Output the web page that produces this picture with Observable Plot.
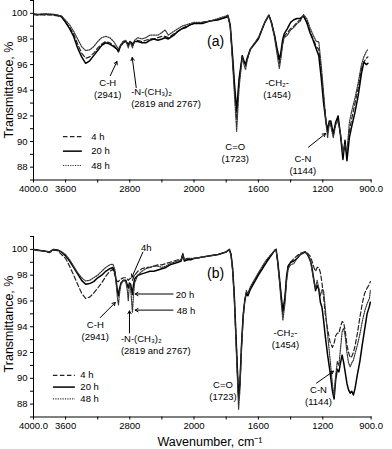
<!DOCTYPE html>
<html><head><meta charset="utf-8">
<script src="https://cdn.jsdelivr.net/npm/d3@7"></script>
<script src="https://cdn.jsdelivr.net/npm/@observablehq/plot@0.6"></script>
<style>
body{margin:0;background:#fff;}
#wrap{position:relative;width:392px;height:449px;font-family:"Liberation Sans",Arial,sans-serif;color:#000;overflow:hidden;}
.panel{position:absolute;left:0;}
.lab{position:absolute;font-size:12.5px;white-space:nowrap;transform:translate(-50%,-50%);}
.ylab{transform:translate(-50%,-50%) rotate(-90deg);}
</style></head><body><div id="wrap"></div>
<script>
// ---------- Panel (a) data ----------
const wavenumA = [4000,3950,3900,3850,3800,3750,3700,3650,3600,3550,
  3500,3450,3400,3350,3300,3250,3200,3150,3100,3050,
  3000,2960,2941,2920,2880,2850,2819,2795,2767,2740,
  2700,2650,2600,2550,2500,2450,2400,2360,2320,2250,
  2200,2150,2100,2050,2000,1950,1900,1850,1800,1790,
  1775,1760,1748,1735,1720,1700,1690,1680,1670,1650,
  1600,1560,1535,1520,1500,1485,1470,1460,1450,1440,
  1420,1400,1380,1360,1340,1320,1300,1280,1260,1240,
  1225,1210,1195,1180,1170,1160,1150,1135,1120,1105,
  1090,1075,1062,1050,1035,1020,1000,980,960,945,
  930,920];
const a4h = [99.9,99.85,99.9,99.85,99.9,99.85,99.8,99.7,99.3,98.9,
  98.4,97.6,96.9,96.5,96.6,96.9,97.3,97.6,97.8,97.7,
  97.5,97.2,97.1,97.4,97.7,97.8,97.5,97.8,97.4,97.8,
  97.9,97.8,97.9,98.0,98.0,98.1,98.2,98.2,98.1,98.4,
  98.6,98.8,99.0,99.1,99.2,99.3,99.4,99.5,99.7,99.8,
  99.0,96.4,94.0,91.8,94.6,96.7,96.2,95.9,96.4,97.2,
  98.1,99.3,99.85,99.4,98.3,97.2,96.1,96.8,97.7,98.2,
  98.5,98.8,99.0,99.3,99.5,99.8,99.4,98.6,98.0,97.4,
  97.2,95.5,93.5,91.6,90.7,91.5,91.4,90.5,91.4,91.8,
  90.5,89.0,89.9,89.0,90.8,91.8,93.0,94.2,95.7,96.2,
  96.5,96.6];
const a20h = [99.95,99.9,99.9,99.95,99.9,99.9,99.85,99.75,99.3,98.8,
  98.2,97.3,96.6,96.1,96.3,96.7,97.1,97.5,97.7,97.6,
  97.4,97.2,97.0,97.4,97.8,97.8,97.6,97.8,97.6,97.8,
  97.8,97.7,97.7,97.9,98.0,97.9,98.0,98.1,98.0,98.3,
  98.6,98.8,98.9,99.1,99.2,99.2,99.4,99.5,99.7,99.85,
  99.1,96.6,94.4,92.4,94.9,96.7,96.3,96.0,96.5,97.2,
  98.0,99.3,99.85,99.3,98.3,97.3,96.4,97.0,97.9,98.4,
  98.8,99.3,99.5,99.6,99.6,99.8,99.3,98.5,97.9,97.2,
  96.7,95.0,93.0,91.5,90.9,91.6,91.6,90.6,91.5,92.0,
  90.5,88.6,90.1,88.5,90.3,91.2,92.3,93.6,95.3,96.2,
  96.0,96.1];
const a48h = [99.95,99.9,99.95,99.9,99.95,99.9,99.85,99.8,99.45,99.1,
  98.6,98.0,97.4,97.1,97.15,97.4,97.8,98.1,98.2,98.1,
  97.8,97.4,97.2,97.5,97.8,97.9,97.3,97.8,97.3,97.9,
  98.1,98.0,98.1,98.3,98.3,98.3,98.5,98.7,98.3,98.6,
  98.8,99.0,99.1,99.2,99.3,99.3,99.4,99.6,99.8,99.85,
  98.9,96.0,93.5,90.8,94.2,96.6,96.0,95.6,96.3,97.2,
  98.1,99.3,99.85,99.3,98.1,96.9,95.7,96.5,97.5,98.1,
  98.3,98.7,98.9,99.2,99.4,99.9,99.6,98.9,98.3,97.8,
  97.8,96.0,93.8,91.4,90.3,91.4,91.2,90.3,91.3,91.6,
  90.6,89.1,89.8,89.2,91.5,92.4,93.4,94.6,96.0,96.6,
  97.0,97.2];

// ---------- Panel (b) data ----------
const wavenumB = [4000,3950,3900,3850,3800,3750,3700,3650,3600,3550,
  3500,3450,3400,3350,3300,3250,3200,3150,3100,3050,
  3010,2985,2965,2950,2941,2930,2910,2880,2850,2830,
  2819,2805,2790,2775,2767,2755,2740,2700,2650,2600,
  2550,2500,2450,2400,2350,2300,2250,2200,2160,2140,
  2120,2080,2040,2000,1950,1900,1850,1800,1780,1770,
  1760,1750,1740,1730,1723,1715,1705,1695,1685,1675,
  1665,1650,1600,1550,1500,1490,1480,1470,1460,1448,
  1435,1425,1415,1400,1380,1360,1340,1310,1295,1280,
  1270,1255,1245,1235,1225,1215,1205,1195,1185,1170,
  1155,1140,1130,1120,1110,1100,1090,1080,1070,1060,
  1050,1040,1030,1020,1010,1000,985,970,955,940,
  925,910,905];
const b4h = [100.0,99.95,99.9,99.85,99.75,99.95,99.9,99.6,99.3,98.7,
  98.0,97.3,96.6,96.2,96.3,96.6,97.0,97.4,97.9,98.3,
  98.45,98.0,97.6,97.5,97.5,97.6,97.7,97.8,97.8,97.7,
  97.6,97.7,97.75,97.7,97.6,97.8,98.0,98.3,98.5,98.6,
  98.6,98.7,98.8,98.8,98.9,99.0,99.1,99.2,99.2,99.7,
  99.2,99.3,99.2,99.3,99.4,99.5,99.6,99.8,100.0,99.6,
  98.5,96.5,93.5,90.5,88.4,89.5,92.5,94.8,96.0,96.6,
  96.5,97.0,98.1,99.1,99.9,100.0,99.0,97.8,96.5,95.0,
  96.2,97.8,98.7,99.0,99.3,99.5,99.7,99.8,99.7,99.5,
  99.2,98.6,98.3,98.6,98.6,98.2,97.4,96.3,95.0,93.8,
  92.8,92.4,92.7,93.3,93.5,93.5,94.0,94.4,94.3,93.6,
  92.6,92.0,91.6,91.7,92.0,92.5,93.5,94.7,95.8,96.6,
  97.0,97.3,97.5];
const b20h = [100.0,99.95,99.9,99.85,99.8,100.0,99.95,99.8,99.5,99.1,
  98.6,98.1,97.6,97.3,97.35,97.5,97.8,98.0,98.3,98.5,
  98.6,98.2,97.3,96.6,96.4,96.9,97.4,97.6,97.6,97.2,
  97.0,97.4,97.3,96.8,96.5,97.2,97.7,98.0,98.1,98.2,
  98.3,98.3,98.4,98.5,98.6,98.8,98.9,99.0,99.1,99.6,
  99.1,99.2,99.2,99.3,99.4,99.5,99.6,99.8,100.0,99.6,
  98.5,96.5,93.5,90.5,88.6,89.6,92.5,94.8,96.0,96.6,
  96.4,96.9,98.0,99.0,99.9,100.0,99.1,97.9,96.6,95.2,
  96.3,97.9,98.7,99.0,99.1,99.3,99.6,99.8,99.6,99.2,
  98.8,97.6,96.8,97.2,96.9,95.9,95.5,94.5,93.3,91.8,
  90.5,89.0,88.4,89.9,90.7,90.5,91.2,91.8,91.2,90.4,
  89.6,89.1,88.85,89.0,88.7,89.2,90.3,91.3,92.6,93.8,
  95.0,95.6,95.9];
const b48h = [100.0,99.9,99.9,99.85,99.8,100.0,99.95,99.8,99.6,99.2,
  98.7,98.2,97.8,97.55,97.6,97.8,98.0,98.3,98.6,98.8,
  98.85,98.4,97.0,96.0,95.7,96.5,97.3,97.6,97.5,96.8,
  96.0,97.3,97.0,95.8,95.1,96.4,97.4,98.0,98.3,98.5,
  98.6,98.7,98.7,98.6,98.7,98.9,99.0,99.1,99.2,99.6,
  99.2,99.3,99.3,99.3,99.4,99.5,99.6,99.8,100.0,99.5,
  98.3,96.2,93.0,89.8,87.6,89.0,92.2,94.6,96.0,96.8,
  96.6,97.1,98.2,99.2,99.9,100.0,98.9,97.6,96.1,94.5,
  95.8,97.5,98.5,98.8,98.9,99.3,99.6,99.85,99.6,99.3,
  98.6,97.5,97.0,97.6,97.0,96.4,96.9,96.8,95.5,93.4,
  91.5,89.5,88.6,90.2,91.3,91.0,92.3,93.6,93.9,93.2,
  92.0,91.2,90.9,91.2,91.4,91.9,92.6,93.4,94.4,95.2,
  95.8,96.2,96.8];

// ---------- Axis ticks ----------
const xTickValues = [4000,3600,3200,2800,2400,2000,1800,1600,1400,1200,900];
const xTickLabels = [[4000,"4000.0"],[3600,"3600"],[2800,"2800"],[2000,"2000"],[1600,"1600"],[1200,"1200"],[900,"900.0"]];
const yTickValues = [87,88,89,90,91,92,93,94,95,96,97,98,99,100,101];
const yTickLabels = [88,90,92,94,96,98,100];
const seriesNames = ["4 h","20 h","48 h"];

// ---------- Annotations (data coordinates: wavenumber, %T) ----------
const annA = {
  texts: [
    {w:3075,t:94.13,s:"C-H\n(2941)",anchor:"middle"},
    {w:2783,t:93.48,s:"-N-(CH\u2083)\u2082\n(2819 and 2767)",anchor:"start"},
    {w:1744,t:89.14,s:"C=O\n(1723)",anchor:"middle"},
    {w:1484,t:94.18,s:"-CH\u2082-\n(1454)",anchor:"middle"},
    {w:1324,t:88.23,s:"C-N\n(1144)",anchor:"middle"}
  ],
  arrows: [
    {w1:3043,t1:95.14,w2:2960,t2:96.24},
    {w1:2720,t1:94.21,w2:2770,t2:96.55},
    {w1:1289,t1:89.56,w2:1183,t2:90.62}
  ],
  tag: {w:1866,t:97.82,s:"(a)"},
  legend: {w1:3627,w2:3391,wt:3280,rows:[90.39,89.25,88.13]}
};
const annB = {
  texts: [
    {w:2596,t:100.18,s:"4h",anchor:"middle"},
    {w:2227,t:96.54,s:"20 h",anchor:"start"},
    {w:2215,t:95.29,s:"48 h",anchor:"start"},
    {w:3230,t:93.71,s:"C-H\n(2941)",anchor:"middle"},
    {w:2911,t:92.67,s:"-N-(CH\u2083)\u2082\n(2819 and 2767)",anchor:"start"},
    {w:1820,t:89.08,s:"C=O\n(1723)",anchor:"middle"},
    {w:1432,t:93.11,s:"-CH\u2082-\n(1454)",anchor:"middle"},
    {w:1227,t:88.67,s:"C-N\n(1144)",anchor:"middle"}
  ],
  arrows: [
    {w1:2637,t1:99.79,w2:2774,t2:97.84},
    {w1:2261,t1:96.54,w2:2733,t2:96.54},
    {w1:2261,t1:95.29,w2:2733,t2:95.29},
    {w1:3168,t1:94.71,w2:2981,t2:95.88},
    {w1:2804,t1:93.52,w2:2804,t2:95.23},
    {w1:1239,t1:89.63,w2:1134,t2:90.55}
  ],
  tag: {w:1866,t:98.15,s:"(b)"},
  legend: {w1:3752,w2:3478,wt:3416,rows:[90.23,89.32,88.41]}
};

const styles = [
  {stroke:"#222", strokeWidth:1.2, strokeDasharray:"4.5,2.5"},
  {stroke:"#000", strokeWidth:1.5, strokeDasharray:null},
  {stroke:"#333", strokeWidth:1.2, strokeDasharray:"1.2,1.2"}
];

function panel(wn, series, ann, height, plotBottom) {
  const labMap = new Map(xTickLabels);
  const marks = [];
  series.forEach((vals, k) => {
    const data = wn.map((w, i) => ({w, t: vals[i]}));
    const st = styles[k];
    marks.push(Plot.line(data, {x:"w", y:"t", stroke:st.stroke, strokeWidth:st.strokeWidth,
      strokeDasharray: st.strokeDasharray || undefined, curve:"linear"}));
  });
  const tStart = ann.texts.filter(d => d.anchor === "start");
  const tMid = ann.texts.filter(d => d.anchor === "middle");
  marks.push(Plot.text(tMid, {x:"w", y:"t", text:"s", textAnchor:"middle", lineHeight:1.25, fontSize:9.5, fill:"#000"}));
  marks.push(Plot.text(tStart, {x:"w", y:"t", text:"s", textAnchor:"start", lineHeight:1.25, fontSize:9.5, fill:"#000"}));
  marks.push(Plot.arrow(ann.arrows, {x1:"w1", y1:"t1", x2:"w2", y2:"t2", stroke:"#000", strokeWidth:1, headLength:5}));
  marks.push(Plot.text([ann.tag], {x:"w", y:"t", text:"s", fontSize:14, textAnchor:"middle", fill:"#000"}));
  const lg = ann.legend;
  lg.rows.forEach((r, k) => {
    const st = styles[k];
    marks.push(Plot.ruleY([r], {x1: lg.w1, x2: lg.w2, stroke: st.stroke, strokeWidth: st.strokeWidth,
      strokeDasharray: st.strokeDasharray || undefined}));
  });
  marks.push(Plot.text(lg.rows.map((r, k) => ({t:r, s:seriesNames[k]})), {x: () => lg.wt, y:"t", text:"s", textAnchor:"start", fontSize:9.5, fill:"#000"}));
  return Plot.plot({
    width: 392, height,
    marginLeft: 33, marginRight: 21.4, marginTop: 0, marginBottom: height - plotBottom,
    style: {fontFamily: "'Liberation Sans', Arial, sans-serif", fontSize: "9.5px", background: "transparent", overflow: "visible", color: "#000"},
    x: {type:"linear", domain:[4000,2000,900], range:[33,193.5,370.6], ticks: xTickValues,
        tickFormat: d => labMap.has(d) ? labMap.get(d) : "", tickSize: 3, tickPadding: 2, line: true, label: null},
    y: {domain:[87,101], range:[plotBottom, 0], ticks: yTickValues,
        tickFormat: d => yTickLabels.includes(d) ? String(d) : "", tickSize: 3, tickPadding: 3, line: true, label: null},
    marks
  });
}

const wrap = document.getElementById("wrap");
const pa = panel(wavenumA, [a4h, a20h, a48h], annA, 200, 179.5);
pa.classList.add("panel"); pa.style.top = "0px";
wrap.appendChild(pa);
const pb = panel(wavenumB, [b4h, b20h, b48h], annB, 213, 180.5);
pb.classList.add("panel"); pb.style.top = "236px";
wrap.appendChild(pb);

function addLabel(text, x, y, rotate) {
  const d = document.createElement("div");
  d.className = "lab" + (rotate ? " ylab" : "");
  d.textContent = text;
  d.style.left = x + "px"; d.style.top = y + "px";
  wrap.appendChild(d);
}
addLabel("Transmittance, %", 9, 90, true);
addLabel("Transmittance, %", 9, 324, true);
addLabel("Wavenumber, cm\u207B\u00B9", 210, 441, false);
</script></body></html>
